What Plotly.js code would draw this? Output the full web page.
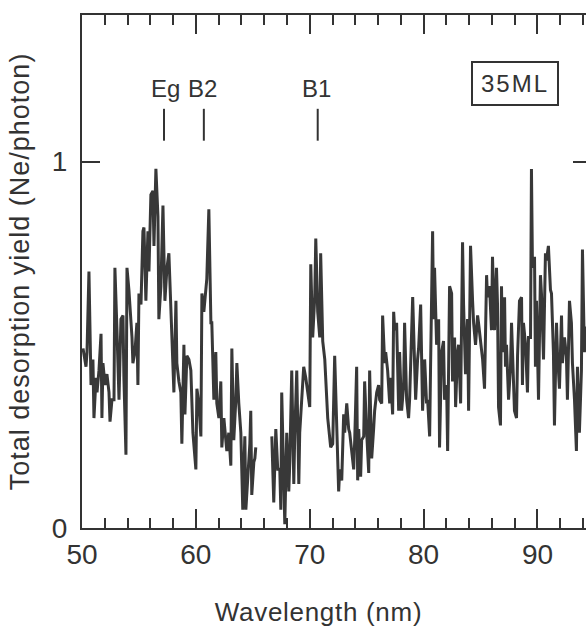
<!DOCTYPE html>
<html>
<head>
<meta charset="utf-8">
<script src="https://cdn.plot.ly/plotly-3.0.1.min.js"></script>
<style>
html,body{margin:0;padding:0;overflow:hidden;background:#fff;}
#chart{width:600px;height:637px;}
#chart .ytitle{letter-spacing:1px;}
#chart .annotation[data-index="3"] text{letter-spacing:2px;}
#chart .annotation[data-index="4"] text{letter-spacing:0.7px;}
</style>
</head>
<body>
<div id="chart"></div>
<script>
// Wavelength (nm)
const wavelength = [
50.09,50.35,50.44,50.61,50.79,50.96,51.05,51.23,51.32,51.49,51.67,51.75,51.84,52.02,52.19,52.37,52.46,52.63,52.81,52.89,
53.07,53.25,53.42,53.60,53.68,53.86,53.95,54.12,54.39,54.47,54.65,54.82,54.91,55.00,55.18,55.35,55.44,55.61,55.79,55.88,
56.05,56.23,56.32,56.49,56.67,56.75,56.93,57.11,57.28,57.46,57.63,57.81,57.89,58.07,58.25,58.33,58.51,58.68,58.77,58.95,
59.04,59.21,59.39,59.56,59.74,59.82,60.00,60.09,60.26,60.44,60.53,60.70,60.88,60.96,61.14,61.32,61.40,61.58,61.75,61.84,
62.02,62.19,62.28,62.46,62.63,62.72,62.89,63.07,63.16,63.33,63.51,63.60,63.77,63.95,64.12,64.30,64.39,64.56,64.74,64.82,
64.91,65.09,65.18,65.26,65.9,
66.67,66.84,67.02,67.19,67.37,67.46,67.54,67.72,67.81,67.98,68.16,68.25,68.42,68.60,68.68,68.86,69.04,69.12,69.30,69.47,
69.65,69.82,70.00,70.09,70.26,70.44,70.53,70.70,70.88,70.96,71.14,71.32,71.58,71.84,72.02,72.19,72.37,72.54,72.63,72.81,
72.98,73.07,73.25,73.42,73.51,73.68,73.86,73.95,74.12,74.21,74.30,74.47,74.56,74.74,74.82,75.00,75.18,75.26,75.44,75.61,
75.70,75.88,76.05,76.14,76.32,76.40,76.58,76.67,76.84,77.02,77.11,77.28,77.37,77.46,77.63,77.81,77.89,78.07,78.25,78.33,
78.51,78.68,78.77,79.04,79.21,79.30,79.47,79.56,79.74,79.82,79.91,80.09,80.26,80.35,80.53,80.61,80.79,80.88,80.96,81.14,
81.32,81.40,81.58,81.75,81.84,82.02,82.11,82.28,82.46,82.54,82.72,82.81,82.98,83.07,83.25,83.42,83.51,83.68,83.86,83.95,
84.12,84.30,84.39,84.56,84.74,84.82,85.00,85.18,85.35,85.53,85.61,85.79,85.96,86.05,86.23,86.40,86.49,86.58,86.75,86.84,
86.93,87.11,87.19,87.28,87.46,87.63,87.72,87.89,87.98,88.16,88.25,88.42,88.60,88.68,88.77,88.95,89.12,89.21,89.39,89.47,
89.56,89.74,89.82,89.91,90.09,90.26,90.35,90.53,90.70,90.79,90.96,91.14,91.23,91.40,91.49,91.67,91.75,91.93,92.11,92.19,
92.37,92.54,92.63,92.81,92.98,93.07,93.25,93.42,93.51,93.68,93.86,93.95,94.12,94.30
];
// Total desorption yield (Ne/photon); null = gap in the measured spectrum
const yieldNe = [
0.49,0.44,0.48,0.70,0.39,0.46,0.30,0.41,0.37,0.43,0.53,0.30,0.45,0.39,0.42,0.37,0.29,0.35,0.35,0.71,
0.54,0.35,0.57,0.58,0.41,0.20,0.71,0.65,0.52,0.45,0.48,0.56,0.39,0.64,0.61,0.81,0.82,0.62,0.81,0.70,
0.91,0.92,0.77,0.98,0.85,0.57,0.66,0.88,0.62,0.71,0.75,0.57,0.52,0.37,0.62,0.45,0.40,0.37,0.23,0.50,
0.31,0.47,0.46,0.43,0.26,0.23,0.16,0.38,0.34,0.25,0.64,0.59,0.66,0.68,0.87,0.56,0.56,0.35,0.48,0.34,
0.30,0.40,0.22,0.30,0.24,0.21,0.26,0.17,0.49,0.24,0.35,0.45,0.34,0.26,0.05,0.25,0.05,0.15,0.23,0.32,
0.09,0.18,0.19,0.22,null,
0.25,0.07,0.27,0.16,0.16,0.05,0.37,0.12,0.01,0.26,0.10,0.18,0.43,0.12,0.25,0.43,0.12,0.26,0.34,0.44,
0.41,0.37,0.33,0.72,0.52,0.63,0.79,0.59,0.52,0.75,0.51,0.46,0.30,0.22,0.23,0.47,0.24,0.10,0.16,0.13,
0.31,0.26,0.34,0.27,0.26,0.21,0.16,0.24,0.44,0.13,0.27,0.14,0.24,0.25,0.40,0.26,0.15,0.43,0.19,0.27,
0.32,0.37,0.39,0.35,0.34,0.58,0.45,0.48,0.43,0.34,0.41,0.31,0.59,0.54,0.56,0.32,0.48,0.32,0.39,0.56,
0.35,0.30,0.35,0.63,0.45,0.35,0.46,0.49,0.61,0.46,0.32,0.46,0.34,0.35,0.25,0.44,0.81,0.57,0.71,0.50,
0.57,0.22,0.48,0.51,0.35,0.39,0.21,0.66,0.64,0.40,0.52,0.33,0.48,0.50,0.34,0.78,0.61,0.42,0.57,0.32,
0.77,0.62,0.56,0.50,0.58,0.56,0.51,0.46,0.38,0.69,0.63,0.66,0.54,0.74,0.54,0.71,0.61,0.33,0.28,0.66,
0.48,0.63,0.44,0.50,0.35,0.44,0.56,0.39,0.32,0.30,0.47,0.62,0.63,0.39,0.56,0.50,0.37,0.52,0.52,0.98,
0.71,0.74,0.44,0.62,0.35,0.69,0.64,0.46,0.75,0.73,0.77,0.65,0.64,0.48,0.28,0.56,0.48,0.38,0.58,0.45,
0.52,0.47,0.35,0.62,0.56,0.45,0.35,0.21,0.44,0.26,0.43,0.76,0.48,0.55
];
// Band markers
const bandNames = ['Eg', 'B2', 'B1'];
const bandPos = [57.2, 60.7, 70.7];
const bandLabelPos = [57.3, 60.6, 70.6];
const sampleLabel = '35ML';
const xTitle = 'Wavelength (nm)';
const yTitle = 'Total desorption yield (Ne/photon)';

const fontFam = '"Liberation Sans", Arial, Helvetica, sans-serif';
const ink = '#333333';

const shapes = bandPos.map(b => ({
  type: 'line', xref: 'x', yref: 'y', x0: b, x1: b, y0: 1.057, y1: 1.144,
  line: {color: ink, width: 2}
}));

const annotations = bandNames.map((n, i) => ({
  x: bandLabelPos[i], y: 1.2, xref: 'x', yref: 'y', text: n, showarrow: false,
  font: {family: fontFam, size: 24, color: ink}
}));
annotations.push({
  x: 88.0, y: 1.213, xref: 'x', yref: 'y', text: sampleLabel, showarrow: false,
  font: {family: fontFam, size: 24, color: ink},
  bordercolor: ink, borderwidth: 2, borderpad: 3, width: 78, height: 35
});
// x-axis title, placed slightly left of the plot centre as in the original
annotations.push({
  x: 0.4637, y: -0.164, xref: 'paper', yref: 'paper', xanchor: 'center', yanchor: 'middle',
  text: xTitle, showarrow: false,
  font: {family: fontFam, size: 26, color: ink}
});

const trace = {
  x: wavelength, y: yieldNe, type: 'scatter', mode: 'lines',
  connectgaps: false,
  line: {color: '#383838', width: 3},
  hoverinfo: 'skip'
};

const layout = {
  width: 600, height: 637,
  margin: {l: 82, r: 9, t: 15, b: 109},
  paper_bgcolor: '#fff', plot_bgcolor: '#fff',
  showlegend: false,
  font: {family: fontFam, color: ink},
  xaxis: {
    range: [50, 94.7], tick0: 50, dtick: 10,
    ticks: 'inside', ticklen: 19, tickwidth: 2, tickcolor: ink,
    minor: {dtick: 2, ticks: 'inside', ticklen: 10, tickwidth: 2, tickcolor: ink},
    showline: true, linecolor: ink, linewidth: 2, mirror: 'ticks',
    showgrid: false, zeroline: false,
    tickfont: {family: fontFam, size: 28, color: ink}
  },
  yaxis: {
    range: [0, 1.4], tickvals: [0, 1], ticktext: ['0', '1'],
    ticks: 'inside', ticklen: 18, tickwidth: 2, tickcolor: ink,
    ticklabelstandoff: 7,
    showline: true, linecolor: ink, linewidth: 2, mirror: 'ticks',
    showgrid: false, zeroline: false,
    tickfont: {family: fontFam, size: 28, color: ink},
    title: {text: yTitle, font: {family: fontFam, size: 27, color: ink}, standoff: 14}
  },
  shapes: shapes,
  annotations: annotations
};

Plotly.newPlot('chart', [trace], layout, {displayModeBar: false, staticPlot: true});
</script>
</body>
</html>
